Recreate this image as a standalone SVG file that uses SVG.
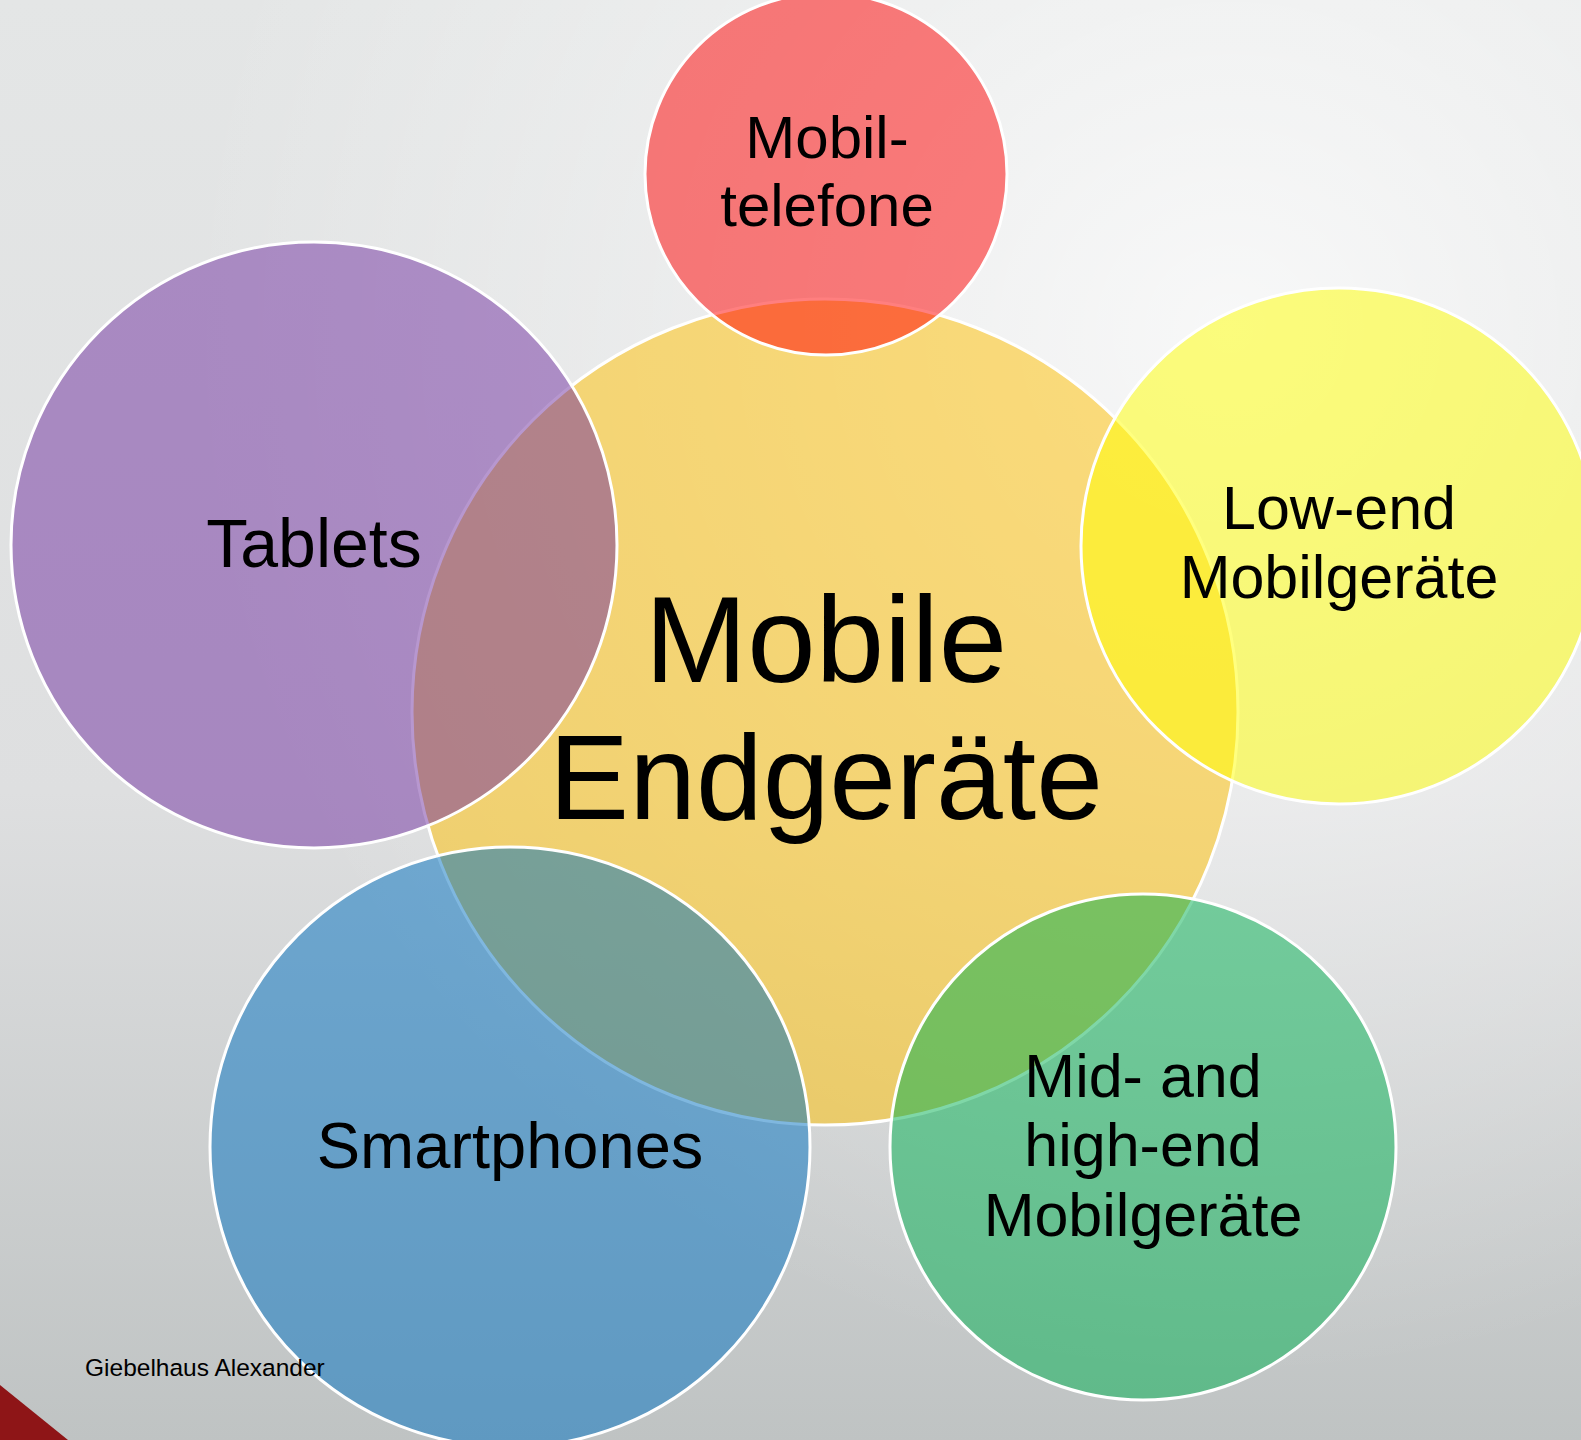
<svg xmlns="http://www.w3.org/2000/svg" width="1581" height="1440" viewBox="0 0 1581 1440">
<defs>
<linearGradient id="bg" x1="0" y1="0" x2="0" y2="1">
<stop offset="0" stop-color="#E4E6E6"/>
<stop offset="0.55" stop-color="#DEDFE0"/>
<stop offset="1" stop-color="#BFC3C3"/>
</linearGradient>
<radialGradient id="hl" gradientUnits="userSpaceOnUse" cx="1230" cy="330" r="1050">
<stop offset="0" stop-color="#FFFFFF" stop-opacity="0.75"/>
<stop offset="0.5" stop-color="#FFFFFF" stop-opacity="0.35"/>
<stop offset="1" stop-color="#FFFFFF" stop-opacity="0"/>
</radialGradient>
</defs>
<style>
.c{stroke:#FFFFFF;stroke-width:3;fill-opacity:0.5}
.t{font-family:"Liberation Sans",Arial,sans-serif;fill:#000000;text-anchor:middle}
</style>
<rect x="0" y="0" width="1581" height="1440" fill="url(#bg)"/>
<rect x="0" y="0" width="1581" height="1440" fill="url(#hl)"/>
<polygon points="0,1385 68,1440 0,1440" fill="#8E1517"/>
<g id="center">
<circle class="c" cx="825" cy="712" r="413" fill="#FFC000"/>
</g>
<g id="mobiltelefone">
<circle class="c" cx="826" cy="174" r="181" fill="#FF0000"/>
<text class="t" x="827" y="158" font-size="60">Mobil-</text>
<text class="t" x="827" y="226" font-size="60">telefone</text>
</g>
<g id="tablets">
<circle class="c" cx="314" cy="545" r="303" fill="#7030A0"/>
<text class="t" x="314" y="567" font-size="68">Tablets</text>
</g>
<g id="lowend">
<circle class="c" cx="1339" cy="546" r="258" fill="#FFFF00"/>
<text class="t" x="1339" y="529" font-size="61">Low-end</text>
<text class="t" x="1339" y="598" font-size="61">Mobilgeräte</text>
</g>
<g id="smartphones">
<circle class="c" cx="510" cy="1147" r="300" fill="#0070C0"/>
<text class="t" x="510" y="1168" font-size="65">Smartphones</text>
</g>
<g id="midhigh">
<circle class="c" cx="1143" cy="1147" r="253" fill="#00B050"/>
<text class="t" x="1143" y="1097" font-size="61">Mid- and</text>
<text class="t" x="1143" y="1166" font-size="61">high-end</text>
<text class="t" x="1143" y="1236" font-size="61">Mobilgeräte</text>
</g>
<g id="center-label">
<text class="t" x="826" y="682" font-size="123">Mobile</text>
<text class="t" x="826" y="819" font-size="120">Endgeräte</text>
</g>
<g id="connectors"></g>
<text x="85" y="1376" font-family="Liberation Sans, Arial, sans-serif" font-size="24.5" fill="#000000">Giebelhaus Alexander</text>
</svg>
